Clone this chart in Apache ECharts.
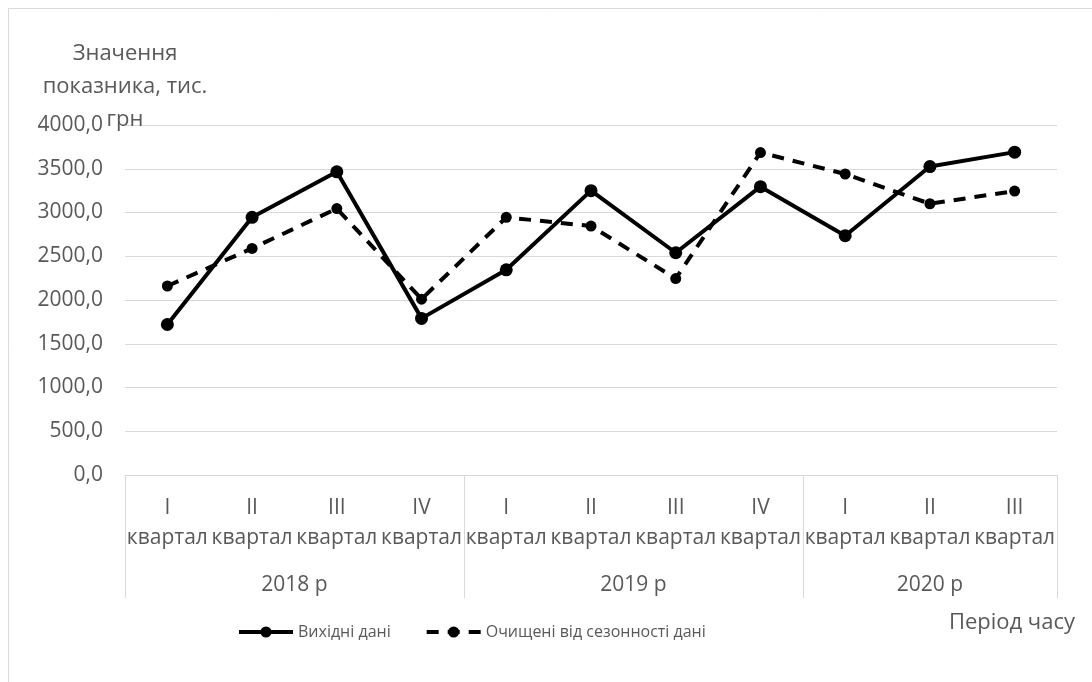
<!DOCTYPE html>
<html>
<head>
<meta charset="utf-8">
<script src="https://cdn.jsdelivr.net/npm/echarts@6/dist/echarts.min.js"></script>
<style>
  html, body { margin: 0; padding: 0; background: #fff; }
  #chart { width: 1092px; height: 682px; }
</style>
</head>
<body>
<div id="chart"></div>
<script>
// квартали та роки
const quarters = ['I', 'II', 'III', 'IV', 'I', 'II', 'III', 'IV', 'I', 'II', 'III']
const years = ['2018 р', '2019 р', '2020 р']
const yearCenters = [2, 6, 9.5]     // середина групи кварталів
const yearBounds = [0, 4, 8, 11]    // межі груп

// значення показника, тис. грн
const rawData = [1720, 2945, 3465, 1790, 2345, 3250, 2540, 3295, 2735, 3525, 3690]
const cleanData = [2160, 2590, 3045, 2010, 2945, 2845, 2245, 3685, 3440, 3100, 3245]

const yTicks = [0, 500, 1000, 1500, 2000, 2500, 3000, 3500, 4000]

const font = "'Open Sans', 'Noto Sans', sans-serif"
const grey = '#595959'

let chart = echarts.init(document.getElementById('chart'))

let option = {
    backgroundColor: '#fff',
    textStyle: { fontFamily: font },
    graphic: [{
        type: 'rect',
        shape: { x: 8.5, y: 8.5, width: 1200, height: 800 },
        style: { fill: 'none', stroke: '#d9d9d9', lineWidth: 1 },
        silent: true
    }],
    title: {
        text: 'Період часу',
        right: 12,
        top: 607,
        textStyle: { fontFamily: font, fontSize: 22, fontWeight: 'normal', color: grey }
    },
    legend: {
        top: 619,
        left: 232,
        itemWidth: 54,
        itemHeight: 14,
        itemGap: 34,
        lineStyle: { width: 4 },
        textStyle: { fontFamily: font, fontSize: 16, color: grey },
        data: ['Вихідні дані', 'Очищені від сезонності дані']
    },
    grid: { left: 125, right: 35, top: 125, bottom: 207 },
    xAxis: [{
        type: 'category',
        data: quarters,
        boundaryGap: true,
        axisLine: { show: true, lineStyle: { color: '#d9d9d9', width: 1 } },
        axisTick: { show: false },
        axisLabel: {
            interval: 0,
            margin: 18,
            lineHeight: 30,
            fontSize: 21,
            color: grey,
            fontFamily: font,
            formatter: v => v + '\nквартал'
        }
    }, {
        type: 'value',
        position: 'bottom',
        min: 0,
        max: 11,
        axisLine: { show: false },
        splitLine: { show: false },
        axisTick: {
            show: true,
            customValues: yearBounds,
            length: 123,
            lineStyle: { color: '#d9d9d9', width: 1 }
        },
        axisLabel: {
            customValues: yearCenters,
            margin: 100,
            fontSize: 21,
            color: grey,
            fontFamily: font,
            formatter: v => years[yearCenters.indexOf(v)]
        }
    }],
    yAxis: {
        type: 'value',
        min: 0,
        max: 4000,
        interval: 500,
        name: 'Значення\nпоказника, тис.\nгрн',
        nameLocation: 'end',
        nameGap: -11,
        nameMoveOverlap: false,
        nameTextStyle: {
            fontFamily: font, fontSize: 22, color: grey,
            lineHeight: 33, align: 'center', verticalAlign: 'bottom'
        },
        axisLine: { show: false },
        axisTick: { show: false },
        splitLine: { lineStyle: { color: '#d9d9d9', width: 1 } },
        axisLabel: {
            margin: 22,
            fontSize: 21,
            color: grey,
            fontFamily: font,
            formatter: v => yTicks.indexOf(v) >= 0 ? v.toFixed(1).replace('.', ',') : ''
        }
    },
    series: [{
        name: 'Вихідні дані',
        type: 'line',
        data: rawData,
        symbol: 'circle',
        symbolSize: 13,
        itemStyle: { color: '#000' },
        lineStyle: { color: '#000', width: 4, type: 'solid' },
        z: 3
    }, {
        name: 'Очищені від сезонності дані',
        type: 'line',
        data: cleanData,
        symbol: 'circle',
        symbolSize: 11,
        itemStyle: { color: '#000' },
        lineStyle: { color: '#000', width: 4, type: [12, 9] },
        z: 2
    }]
}

chart.setOption(option)
window.addEventListener('resize', function () {
    chart.resize()
})
</script>
</body>
</html>
